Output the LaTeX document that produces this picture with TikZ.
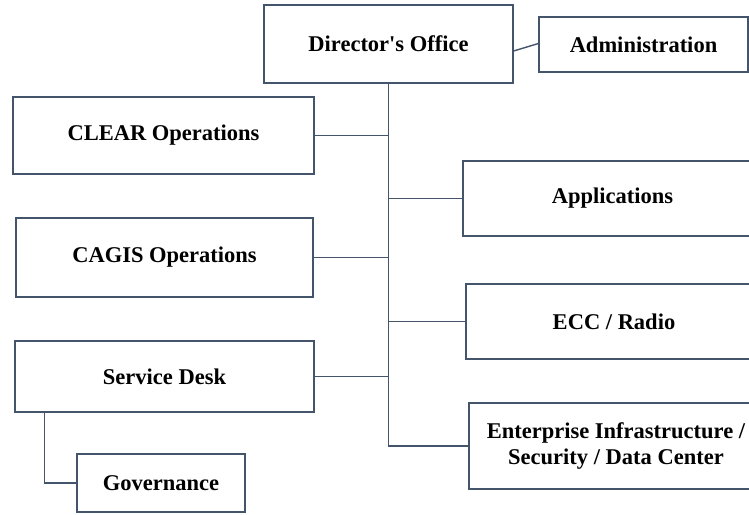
\documentclass[tikz,border=0pt]{standalone}
\usepackage{fontspec}
\setmainfont{Liberation Serif}[Ligatures=TeXOff]
\definecolor{linegray}{RGB}{68,84,106}
\begin{document}
\begin{tikzpicture}[x=1pt,y=-1pt,
  unit/.style={draw=linegray,line width=1.2pt,fill=white,inner sep=0pt,
    align=center,font=\fontsize{22.5}{26}\selectfont\bfseries},
  link/.style={draw=linegray,line width=1.4pt}]
\clip (0,0) rectangle (749,514);
\fill[white] (0,0) rectangle (749,514);

% boxes
\node[unit,minimum width=249pt,minimum height=78pt] (dir)   at (388.5,44)  {Director's Office};
\node[unit,minimum width=209pt,minimum height=55pt] (admin) at (643.5,44.5) {Administration};
\node[unit,minimum width=301pt,minimum height=77pt] (clear) at (163.5,135.5) {CLEAR Operations};
\node[unit,minimum width=297pt,minimum height=79pt] (cagis) at (164.5,257.5) {CAGIS Operations};
\node[unit,minimum width=299pt,minimum height=71pt] (sdesk) at (164.5,376.5) {Service Desk};
\node[unit,minimum width=168pt,minimum height=58pt] (gov)   at (161,483)  {Governance};
\node[unit,minimum width=299pt,minimum height=75pt] (apps)  at (612.5,198.5) {Applications};
\node[unit,minimum width=296pt,minimum height=75pt] (ecc)   at (614,321.5) {ECC / Radio};
\node[unit,minimum width=294pt,minimum height=86pt] (ent)   at (616,446) {Enterprise Infrastructure /\\Security / Data Center};

% connectors
\draw[link] ([yshift=-7pt]dir.east) -- ([yshift=1pt]admin.west);
\draw[link] (dir.south) -- (dir.south |- ent.west) -- (ent.west);
\draw[link] (clear.east) -- (clear.east -| dir.south);
\draw[link] (cagis.east) -- (cagis.east -| dir.south);
\draw[link] (sdesk.east) -- (sdesk.east -| dir.south);
\draw[link] (apps.west) -- (apps.west -| dir.south);
\draw[link] (ecc.west) -- (ecc.west -| dir.south);
\draw[link] ([xshift=30pt]sdesk.south west) |- (gov.west);
\end{tikzpicture}
\end{document}
